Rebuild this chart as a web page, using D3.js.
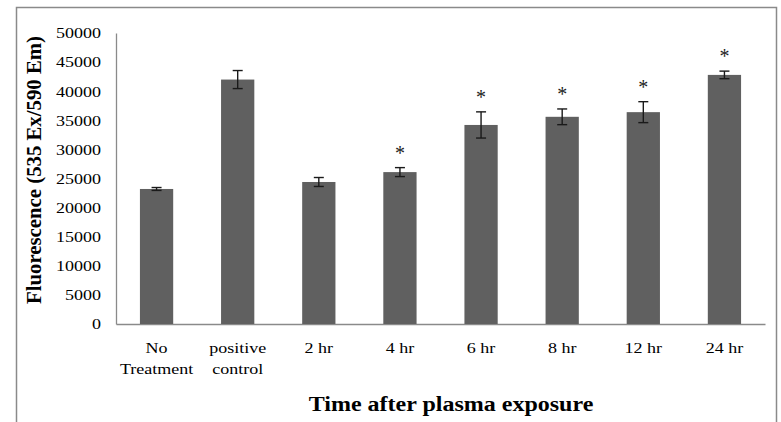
<!DOCTYPE html>
<html>
<head>
<meta charset="utf-8">
<script src="https://cdn.jsdelivr.net/npm/d3@7"></script>
<style>
  body { margin: 0; background: #fff; }
  svg { display: block; }
  svg text { font-family: "Liberation Serif", "Times New Roman", serif; }
</style>
</head>
<body>
<div id="chart"></div>
<script>
var categories = ["No Treatment", "positive control", "2 hr", "4 hr", "6 hr", "8 hr", "12 hr", "24 hr"];
var values = [23200, 42000, 24400, 26100, 34200, 35600, 36400, 42800];
var errors = [250, 1550, 770, 770, 2250, 1350, 1800, 650];
var starred = [false, false, false, true, true, true, true, true];
var yTicks = [0, 5000, 10000, 15000, 20000, 25000, 30000, 35000, 40000, 45000, 50000];

var width = 781, height = 422;
var plotLeft = 116, plotRight = 765, plotTop = 33, plotBottom = 324;
var serif = "Liberation Serif, Times New Roman, serif";
var stretch = 1.2; // the source picture is a bit wider than tall

var svg = d3.select("#chart")
    .append("svg")
    .attr("width", width)
    .attr("height", height);

// widen a text horizontally, the same way the reference image is
function widen(sel) {
    sel.each(function () {
        var w = this.getComputedTextLength();
        d3.select(this).attr("textLength", w * stretch).attr("lengthAdjust", "spacingAndGlyphs");
    });
}

// outer frame
svg.append("rect")
    .attr("x", 16.5).attr("y", 7.5)
    .attr("width", 760).attr("height", 430)
    .attr("fill", "none")
    .attr("stroke", "#8a8a8a")
    .attr("stroke-width", 1.5);

var x = d3.scaleBand()
    .domain(categories)
    .range([plotLeft, plotRight])
    .paddingInner(0.59)
    .paddingOuter(0.295);

var y = d3.scaleLinear()
    .domain([0, 50000])
    .range([plotBottom, plotTop]);

var data = categories.map(function (c, i) {
    return { name: c, value: values[i], err: errors[i], star: starred[i] };
});

// y axis
var yAxis = svg.append("g")
    .attr("transform", "translate(" + plotLeft + ",0)")
    .call(d3.axisLeft(y).tickValues(yTicks).tickSize(0).tickPadding(15).tickFormat(d3.format("d")));
yAxis.attr("font-family", serif);
yAxis.select(".domain").attr("stroke", "#8a8a8a").attr("stroke-width", 1.3);
yAxis.selectAll("text")
    .attr("font-size", 15)
    .attr("fill", "#000")
    .call(widen);

// x axis
var xAxis = svg.append("g")
    .attr("transform", "translate(0," + plotBottom + ")")
    .call(d3.axisBottom(x).tickSize(0).tickFormat(""));
xAxis.attr("font-family", serif);
xAxis.select(".domain").attr("stroke", "#8a8a8a").attr("stroke-width", 1.3);

// category labels, two lines where the reference wraps them
xAxis.selectAll(".tick").each(function (d) {
    var lines = (d.indexOf("hr") >= 0) ? [d] : d.split(" ");
    var g = d3.select(this);
    lines.forEach(function (l, i) {
        g.append("text")
            .attr("font-size", 15)
            .attr("fill", "#000")
            .attr("text-anchor", "middle")
            .attr("x", 0)
            .attr("y", 29 + i * 21)
            .text(l)
            .call(widen);
    });
});

// bars
svg.selectAll(".bar")
    .data(data)
    .enter()
    .append("rect")
    .attr("class", "bar")
    .attr("x", function (d) { return x(d.name); })
    .attr("width", x.bandwidth())
    .attr("y", function (d) { return y(d.value); })
    .attr("height", function (d) { return plotBottom - y(d.value); })
    .attr("fill", "#606060");

// error bars
var eb = svg.selectAll(".err")
    .data(data)
    .enter()
    .append("g")
    .attr("class", "err")
    .attr("stroke", "#1a1a1a")
    .attr("stroke-width", 1.4);
eb.append("line")
    .attr("x1", function (d) { return x(d.name) + x.bandwidth() / 2; })
    .attr("x2", function (d) { return x(d.name) + x.bandwidth() / 2; })
    .attr("y1", function (d) { return y(d.value + d.err); })
    .attr("y2", function (d) { return y(d.value - d.err); });
eb.selectAll(".cap")
    .data(function (d) { return [d.value + d.err, d.value - d.err].map(function (v) { return { name: d.name, v: v }; }); })
    .enter()
    .append("line")
    .attr("x1", function (d) { return x(d.name) + x.bandwidth() / 2 - 5; })
    .attr("x2", function (d) { return x(d.name) + x.bandwidth() / 2 + 5; })
    .attr("y1", function (d) { return y(d.v); })
    .attr("y2", function (d) { return y(d.v); });

// significance stars
svg.selectAll(".star")
    .data(data.filter(function (d) { return d.star; }))
    .enter()
    .append("text")
    .attr("class", "star")
    .attr("x", function (d) { return x(d.name) + x.bandwidth() / 2; })
    .attr("y", function (d) { return y(d.value + d.err) - 8; })
    .attr("text-anchor", "middle")
    .attr("font-size", 20)
    .attr("fill", "#222")
    .text("*");

// axis titles
svg.append("text")
    .attr("transform", "translate(41,170) rotate(-90)")
    .attr("text-anchor", "middle")
    .attr("font-weight", "bold")
    .attr("font-size", 20)
    .attr("textLength", 268)
    .attr("lengthAdjust", "spacingAndGlyphs")
    .text("Fluorescence (535 Ex/590 Em)");

svg.append("text")
    .attr("x", 451)
    .attr("y", 411)
    .attr("text-anchor", "middle")
    .attr("font-weight", "bold")
    .attr("font-size", 20)
    .text("Time after plasma exposure")
    .call(widen);
</script>
</body>
</html>
